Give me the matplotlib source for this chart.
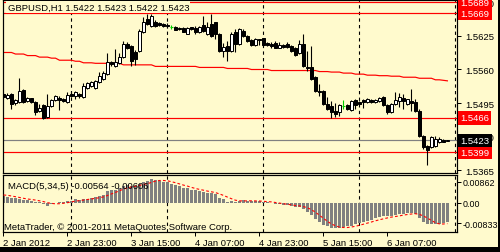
import matplotlib
matplotlib.use("Agg")
import matplotlib.pyplot as plt
from matplotlib.patches import Rectangle

plt.rcParams['font.family'] = ['Liberation Sans', 'DejaVu Sans']

# ---------------- data ----------------
header_text = "GBPUSD,H1 1.5422 1.5423 1.5422 1.5423"
macd_text = "MACD(5,34,5) -0.00564 -0.00606"
copyright_text = "MetaTrader, \u00a9 2001-2011 MetaQuotes Software Corp."

opens = [1.5512, 1.5505, 1.5512, 1.5495, 1.5497, 1.5520, 1.5499, 1.5505, 1.5497, 1.5480,
         1.5491, 1.5468, 1.5489, 1.5501, 1.5505, 1.5503, 1.5497, 1.5512, 1.5509, 1.5512,
         1.5507, 1.5524, 1.5528, 1.5524, 1.5536, 1.5542, 1.5551, 1.5575, 1.5567, 1.5573,
         1.5584, 1.5609, 1.5606, 1.5594, 1.5596, 1.5633, 1.5658, 1.5644, 1.5652, 1.5650,
         1.5648, 1.5646, 1.5642, 1.5642, 1.5641, 1.5641, 1.5629, 1.5642, 1.5641, 1.5633,
         1.5646, 1.5629, 1.5648, 1.5652, 1.5629, 1.5596, 1.5606, 1.5596, 1.5633, 1.5609,
         1.5635, 1.5625, 1.5617, 1.5608, 1.5619, 1.5621, 1.5611, 1.5609, 1.5611, 1.5602,
         1.5608, 1.5609, 1.5606, 1.5602, 1.5592, 1.5609, 1.5565, 1.5565, 1.5545, 1.5518,
         1.5518, 1.5493, 1.5489, 1.5480, 1.5478, 1.5489, 1.5491, 1.5481, 1.5501, 1.5497,
         1.5501, 1.5497, 1.5501, 1.5497, 1.5499, 1.5507, 1.5491, 1.5478, 1.5493, 1.5499,
         1.5505, 1.5493, 1.5499, 1.5497, 1.5480, 1.5431, 1.5412, 1.5410, 1.5412, 1.5419,
         1.5423, 1.5422]
highs = [1.5516, 1.5514, 1.5514, 1.5503, 1.5544, 1.5522, 1.5507, 1.5505, 1.5499, 1.5493,
         1.5493, 1.5512, 1.5503, 1.5511, 1.5509, 1.5505, 1.5516, 1.5518, 1.5518, 1.5514,
         1.5534, 1.5536, 1.5538, 1.5540, 1.5555, 1.5557, 1.5592, 1.5577, 1.5600, 1.5592,
         1.5615, 1.5613, 1.5608, 1.5598, 1.5639, 1.5662, 1.5668, 1.5668, 1.5656, 1.5652,
         1.5650, 1.5650, 1.5646, 1.5644, 1.5642, 1.5642, 1.5642, 1.5642, 1.5644, 1.5644,
         1.5664, 1.5652, 1.5668, 1.5652, 1.5631, 1.5611, 1.5615, 1.5633, 1.5639, 1.5641,
         1.5639, 1.5627, 1.5619, 1.5621, 1.5619, 1.5621, 1.5613, 1.5613, 1.5615, 1.5613,
         1.5609, 1.5613, 1.5608, 1.5604, 1.5617, 1.5629, 1.5596, 1.5606, 1.5547, 1.5532,
         1.5520, 1.5507, 1.5499, 1.5495, 1.5493, 1.5501, 1.5493, 1.5501, 1.5503, 1.5499,
         1.5503, 1.5505, 1.5503, 1.5503, 1.5507, 1.5509, 1.5493, 1.5495, 1.5516, 1.5514,
         1.5512, 1.5503, 1.5522, 1.5503, 1.5483, 1.5433, 1.5413, 1.5431, 1.5431, 1.5429,
         1.5425, 1.5423]
lows = [1.5505, 1.5503, 1.5483, 1.5491, 1.5495, 1.5495, 1.5497, 1.5495, 1.5472, 1.5478,
        1.5464, 1.5466, 1.5487, 1.5499, 1.5481, 1.5497, 1.5495, 1.5507, 1.5503, 1.5505,
        1.5505, 1.5522, 1.5526, 1.5522, 1.5534, 1.5540, 1.5549, 1.5567, 1.5565, 1.5571,
        1.5582, 1.5600, 1.5567, 1.5569, 1.5594, 1.5631, 1.5646, 1.5642, 1.5642, 1.5644,
        1.5642, 1.5641, 1.5639, 1.5637, 1.5637, 1.5633, 1.5629, 1.5637, 1.5629, 1.5631,
        1.5633, 1.5627, 1.5623, 1.5619, 1.5594, 1.5584, 1.5577, 1.5594, 1.5594, 1.5608,
        1.5623, 1.5613, 1.5606, 1.5606, 1.5608, 1.5606, 1.5606, 1.5602, 1.5602, 1.5602,
        1.5602, 1.5602, 1.5594, 1.5586, 1.5590, 1.5565, 1.5557, 1.5540, 1.5516, 1.5509,
        1.5491, 1.5481, 1.5466, 1.5468, 1.5470, 1.5483, 1.5481, 1.5480, 1.5483, 1.5491,
        1.5485, 1.5495, 1.5495, 1.5495, 1.5497, 1.5489, 1.5474, 1.5476, 1.5491, 1.5487,
        1.5483, 1.5491, 1.5480, 1.5478, 1.5429, 1.5406, 1.5375, 1.5408, 1.5410, 1.5417,
        1.5419, 1.5422]
closes = [1.5507, 1.5511, 1.5493, 1.5501, 1.5518, 1.5497, 1.5505, 1.5497, 1.5478, 1.5485,
          1.5466, 1.5489, 1.5501, 1.5509, 1.5501, 1.5499, 1.5511, 1.5509, 1.5516, 1.5509,
          1.5528, 1.5534, 1.5536, 1.5538, 1.5547, 1.5553, 1.5575, 1.5571, 1.5575, 1.5584,
          1.5609, 1.5602, 1.5577, 1.5580, 1.5635, 1.5652, 1.5648, 1.5664, 1.5644, 1.5646,
          1.5644, 1.5644, 1.5642, 1.5637, 1.5639, 1.5633, 1.5641, 1.5639, 1.5633, 1.5642,
          1.5635, 1.5642, 1.5625, 1.5629, 1.5596, 1.5604, 1.5596, 1.5629, 1.5609, 1.5639,
          1.5625, 1.5615, 1.5608, 1.5619, 1.5617, 1.5608, 1.5608, 1.5606, 1.5602, 1.5608,
          1.5604, 1.5604, 1.5596, 1.5588, 1.5609, 1.5567, 1.5563, 1.5542, 1.5518, 1.5516,
          1.5493, 1.5483, 1.5478, 1.5474, 1.5491, 1.5489, 1.5483, 1.5499, 1.5491, 1.5493,
          1.5497, 1.5503, 1.5497, 1.5501, 1.5505, 1.5491, 1.5478, 1.5493, 1.5501, 1.5507,
          1.5499, 1.5503, 1.5495, 1.5480, 1.5431, 1.5410, 1.5404, 1.5429, 1.5425, 1.5425,
          1.5419, 1.5423]
moving_average = [1.5593, 1.5593, 1.5593, 1.5590, 1.5590, 1.5590, 1.5587, 1.5587, 1.5587, 1.5584,
                  1.5584, 1.5584, 1.5582, 1.5582, 1.5578, 1.5578, 1.5578, 1.5578, 1.5576, 1.5576,
                  1.5573, 1.5573, 1.5573, 1.5572, 1.5572, 1.5572, 1.5572, 1.5572, 1.5572, 1.5572,
                  1.5569, 1.5569, 1.5569, 1.5569, 1.5569, 1.5569, 1.5569, 1.5569, 1.5566, 1.5566,
                  1.5566, 1.5566, 1.5566, 1.5566, 1.5566, 1.5566, 1.5566, 1.5566, 1.5566, 1.5564,
                  1.5564, 1.5564, 1.5564, 1.5564, 1.5564, 1.5564, 1.5562, 1.5562, 1.5562, 1.5562,
                  1.5562, 1.5562, 1.5560, 1.5560, 1.5560, 1.5560, 1.5560, 1.5558, 1.5558, 1.5558,
                  1.5558, 1.5558, 1.5558, 1.5558, 1.5558, 1.5558, 1.5558, 1.5558, 1.5558, 1.5556,
                  1.5556, 1.5556, 1.5555, 1.5555, 1.5555, 1.5553, 1.5553, 1.5553, 1.5551, 1.5551,
                  1.5551, 1.5549, 1.5549, 1.5549, 1.5548, 1.5548, 1.5548, 1.5547, 1.5547, 1.5547,
                  1.5545, 1.5545, 1.5545, 1.5545, 1.5543, 1.5543, 1.5543, 1.5543, 1.5540, 1.5540,
                  1.5539, 1.5538]
macd_main = [0.00299, 0.00258, 0.00205, 0.00193, 0.00164, 0.00135, 0.00135, 0.00094, 0.00053, 0.00029,
             -0.00029, -0.00111, -0.00053, 0.00002, 0.00041, 0.00053, 0.00070, 0.00082, 0.00152, 0.00135,
             0.00164, 0.00176, 0.00205, 0.00246, 0.00275, 0.00328, 0.00492, 0.00533, 0.00545, 0.00603,
             0.00685, 0.00738, 0.00709, 0.00685, 0.00779, 0.00873, 0.00902, 0.00984, 0.00943, 0.00902,
             0.00873, 0.00849, 0.00791, 0.00738, 0.00685, 0.00627, 0.00603, 0.00545, 0.00521, 0.00492,
             0.00463, 0.00410, 0.00410, 0.00357, 0.00217, 0.00164, 0.00053, 0.00094, 0.00053, 0.00094,
             0.00111, 0.00094, 0.00070, 0.00070, 0.00070, 0.00053, 0.00029, -0.00004, -0.00053, -0.00053,
             -0.00070, -0.00070, -0.00111, -0.00164, -0.00152, -0.00246, -0.00357, -0.00480, -0.00656, -0.00767,
             -0.00902, -0.00955, -0.01025, -0.01037, -0.01025, -0.00984, -0.00955, -0.00931, -0.00873, -0.00820,
             -0.00767, -0.00726, -0.00685, -0.00627, -0.00586, -0.00545, -0.00545, -0.00521, -0.00492, -0.00463,
             -0.00451, -0.00422, -0.00410, -0.00439, -0.00615, -0.00767, -0.00873, -0.00873, -0.00873, -0.00873,
             -0.00832, -0.00791]
macd_signal = [0.00328, 0.00316, 0.00287, 0.00258, 0.00226, 0.00193, 0.00164, 0.00144, 0.00119, 0.00090,
               0.00057, 0.00012, -0.00016, -0.00033, -0.00029, -0.00012, 0.00012, 0.00045, 0.00078, 0.00098,
               0.00119, 0.00144, 0.00168, 0.00193, 0.00217, 0.00250, 0.00308, 0.00373, 0.00435, 0.00500,
               0.00570, 0.00619, 0.00656, 0.00685, 0.00718, 0.00763, 0.00791, 0.00845, 0.00898, 0.00923,
               0.00923, 0.00910, 0.00873, 0.00832, 0.00783, 0.00734, 0.00693, 0.00640, 0.00595, 0.00558,
               0.00525, 0.00488, 0.00459, 0.00426, 0.00373, 0.00312, 0.00242, 0.00176, 0.00115, 0.00090,
               0.00082, 0.00090, 0.00090, 0.00086, 0.00082, 0.00070, 0.00057, 0.00045, 0.00021, -0.00004,
               -0.00029, -0.00053, -0.00074, -0.00103, -0.00119, -0.00148, -0.00193, -0.00275, -0.00377, -0.00500,
               -0.00627, -0.00750, -0.00861, -0.00931, -0.00988, -0.01005, -0.01005, -0.00984, -0.00955, -0.00914,
               -0.00869, -0.00824, -0.00779, -0.00730, -0.00689, -0.00648, -0.00611, -0.00578, -0.00554, -0.00529,
               -0.00496, -0.00472, -0.00451, -0.00439, -0.00467, -0.00529, -0.00619, -0.00713, -0.00808, -0.00857,
               -0.00861, -0.00845]

red_levels = [1.5690, 1.5669, 1.5466, 1.5399]
red_level_labels = ["1.5689", "1.5669", "1.5466", "1.5399"]
bid_price = 1.5423
bid_label = "1.5423"
price_ticks = [1.5690, 1.5625, 1.5560, 1.5495, 1.5430, 1.5365]
macd_ticks = [0.00862, 0.0, -0.00833]
macd_tick_labels = ["0.00862", "0.00", "-0.00833"]
time_tick_bars = [0, 16, 32, 48, 64, 80, 96]
time_tick_labels = ["2 Jan 2012", "2 Jan 23:00", "3 Jan 15:00", "4 Jan 07:00",
                    "4 Jan 23:00", "5 Jan 15:00", "6 Jan 07:00"]
day_separator_bars = [17, 41, 65, 89, 113]

# ---------------- style ----------------
BG = '#FFFACD'
W, H = 500, 253
FS = 6.8
PX = 0.72  # one pixel in points

fig = plt.figure(figsize=(W / 100, H / 100), dpi=100, facecolor=BG)


def rect(left, top, right, bottom):
    return [left / W, 1 - bottom / H, (right - left) / W, (bottom - top) / H]


ax = fig.add_axes(rect(2.5, 0.5, 457, 174), facecolor=BG)
axm = fig.add_axes(rect(2.5, 176, 457, 233), facecolor=BG, sharex=ax)

xs = list(range(len(opens)))
ax.set_xlim(-0.25, 113.4)
ax.set_ylim(1.53592, 1.56958)
axm.set_ylim(-0.01189, 0.01148)

for a in (ax, axm):
    for s in a.spines.values():
        s.set_color('black')
        s.set_linewidth(PX * 1.2)
    for b in day_separator_bars:
        a.axvline(b, color='black', lw=PX * 1.1, linestyle=(0, (3, 3)), zorder=1)

# horizontal levels
for lv in red_levels:
    ax.axhline(lv, color='red', lw=PX * 1.2, zorder=2)
ax.axhline(bid_price, color='#808080', lw=PX * 1.2, zorder=2)

# moving average
ax.plot(xs, moving_average, color='red', lw=PX * 1.2, zorder=2)

# candles
for i, (o, h, l, c) in enumerate(zip(opens, highs, lows, closes)):
    if o == c:
        ax.vlines(i, l, h, color='#00CC00', lw=PX * 1.1, zorder=3)
        ax.hlines(c, i - 0.35, i + 0.35, color='#00CC00', lw=PX * 1.1, zorder=3)
        continue
    ax.vlines(i, l, h, color='black', lw=PX * 1.1, zorder=3)
    fc = 'white' if c > o else 'black'
    ax.bar(i, abs(c - o), bottom=min(o, c), width=0.55, facecolor=fc,
           edgecolor='black', linewidth=PX * 1.0, zorder=4)

# price axis
ax.yaxis.tick_right()
ax.set_yticks(price_ticks, [f"{p:.4f}" for p in price_ticks])
ax.tick_params(axis='y', direction='out', length=3, width=PX, pad=3,
               labelsize=FS, colors='black')
ax.tick_params(axis='x', bottom=False, labelbottom=False)

# level labels on the right
tr = ax.get_yaxis_transform()
dx = 3.5 / 454.5
for lv, lab in zip(red_levels, red_level_labels):
    ax.text(1 + dx, lv, lab, transform=tr, ha='left', va='center', color='white',
            fontsize=FS, clip_on=False, zorder=20,
            bbox=dict(boxstyle='square,pad=0.22', fc='red', ec='none'))
ax.text(1 + dx, bid_price, bid_label, transform=tr, ha='left', va='center', color='white',
        fontsize=FS, clip_on=False, zorder=20,
        bbox=dict(boxstyle='square,pad=0.22', fc='black', ec='none'))

# header
ax.text(5 / 454.5, 0.955, header_text, transform=ax.transAxes, fontsize=FS,
        ha='left', va='center', zorder=30, color='black',
        bbox=dict(boxstyle='square,pad=0.15', fc=BG, ec='none'))

# MACD panel
axm.bar(xs, macd_main, width=0.72, color='#808080', zorder=2)
axm.plot(xs, macd_signal, color='red', lw=PX * 1.1, linestyle=(0, (2.5, 2)), zorder=3)
axm.yaxis.tick_right()
axm.set_yticks(macd_ticks, macd_tick_labels)
axm.tick_params(axis='y', direction='out', length=3, width=PX, pad=1,
                labelsize=6.4, colors='black')
axm.set_xticks(time_tick_bars, time_tick_labels)
axm.tick_params(axis='x', direction='out', length=3, width=PX, pad=1.5,
                labelsize=FS, colors='black')
for t in axm.get_xticklabels():
    t.set_ha('left')
axm.text(5 / 454.5, 0.82, macd_text, transform=axm.transAxes, fontsize=FS,
         ha='left', va='center', zorder=30)
axm.text(1 / 454.5, 0.10, copyright_text, transform=axm.transAxes, fontsize=FS,
         ha='left', va='center', zorder=30)

# window frame: black band at bottom and right edge
fig.patches.append(Rectangle((0, 0), 1, 5 / H, transform=fig.transFigure,
                             facecolor='black', edgecolor='none'))
fig.patches.append(Rectangle((498 / W, 0), 2 / W, 1, transform=fig.transFigure,
                             facecolor='black', edgecolor='none'))

fig.savefig('out.png', dpi=100, facecolor=BG)
